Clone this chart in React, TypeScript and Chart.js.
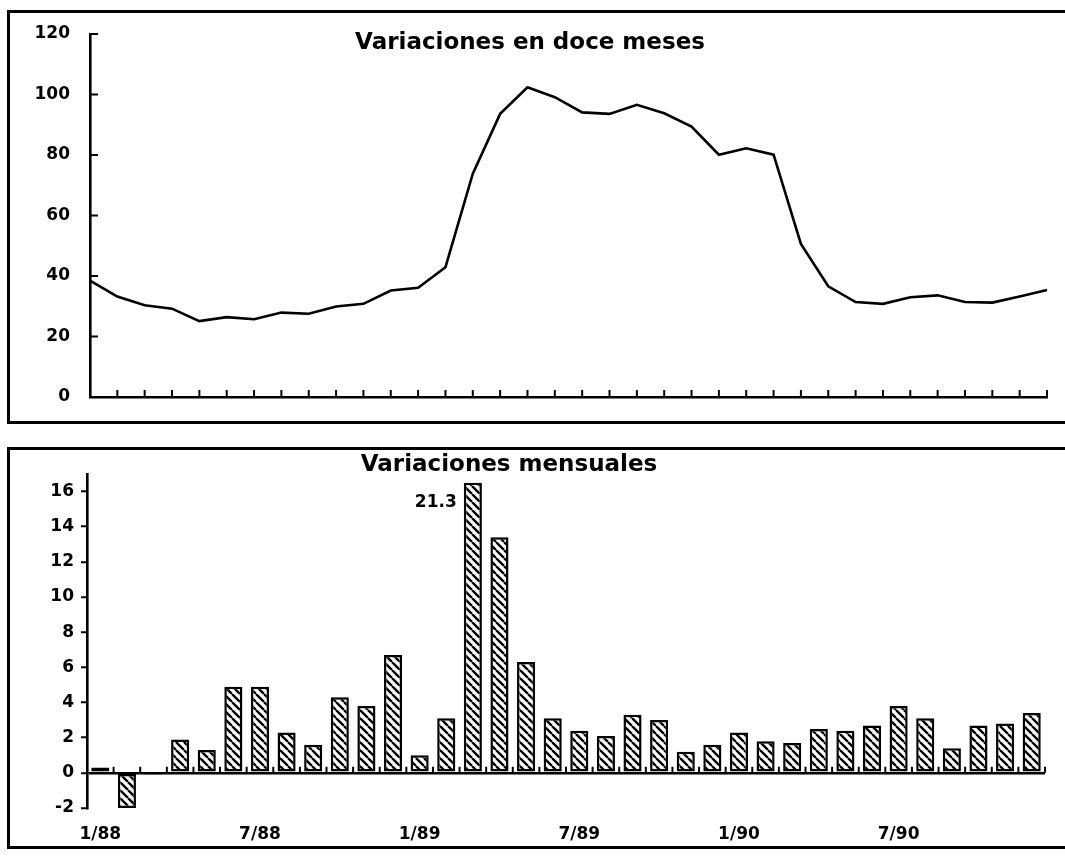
import React, { useEffect, useRef } from "react";
import { Chart, registerables } from "chart.js";

Chart.register(...registerables);

// ---------- data ----------
const months = [
  "1/88", "2/88", "3/88", "4/88", "5/88", "6/88", "7/88", "8/88", "9/88", "10/88", "11/88", "12/88",
  "1/89", "2/89", "3/89", "4/89", "5/89", "6/89", "7/89", "8/89", "9/89", "10/89", "11/89", "12/89",
  "1/90", "2/90", "3/90", "4/90", "5/90", "6/90", "7/90", "8/90", "9/90", "10/90", "11/90", "12/90",
];
const shownMonthLabels = ["1/88", "7/88", "1/89", "7/89", "1/90", "7/90"];

const twelveMonthChange = [
  38.5, 33.2, 30.3, 29.2, 25.1, 26.4, 25.7, 27.9, 27.5, 29.9, 30.8, 35.2,
  36.1, 42.9, 73.8, 93.6, 102.4, 99.1, 94.1, 93.6, 96.6, 93.8, 89.4, 80.1,
  82.2, 80.1, 50.6, 36.6, 31.4, 30.8, 33.0, 33.6, 31.4, 31.2, 33.2, 35.4,
];
const monthlyChange = [
  0.3, -2.0, -0.1, 1.9, 1.3, 4.9, 4.9, 2.3, 1.6, 4.3, 3.8, 6.7,
  1.0, 3.1, 21.3, 13.4, 6.3, 3.1, 2.4, 2.1, 3.3, 3.0, 1.2, 1.6,
  2.3, 1.8, 1.7, 2.5, 2.4, 2.7, 3.8, 3.1, 1.4, 2.7, 2.8, 3.4,
];
const twelveMonthTicks = [0, 20, 40, 60, 80, 100, 120];
const monthlyTicks = [-2, 0, 2, 4, 6, 8, 10, 12, 14, 16];

const TOP_TITLE = "Variaciones en doce meses";
const BOTTOM_TITLE = "Variaciones mensuales";
const BAR_CAP = 16.5; // broken bar: values above are drawn to this height and annotated

const FONT = '"DejaVu Sans", sans-serif';
const tickFont = { family: FONT, size: 17, weight: "bold" as const };

export default function App() {
  const topRef = useRef<HTMLCanvasElement>(null);
  const botRef = useRef<HTMLCanvasElement>(null);

  useEffect(() => {
    const topCanvas = topRef.current!;
    const botCanvas = botRef.current!;

    // ---------- top: line chart ----------
    const topPlugin = {
      id: "topDecor",
      afterDraw(chart: any) {
        const { ctx, scales } = chart;
        const x = scales.x;
        const y = scales.y;
        ctx.save();
        ctx.strokeStyle = "#000";
        ctx.lineWidth = 2;
        ctx.beginPath();
        for (let i = 1; i < months.length; i++) {
          const px = x.getPixelForValue(i);
          ctx.moveTo(px, y.bottom);
          ctx.lineTo(px, y.bottom - 7);
        }
        y.ticks.forEach((t: any) => {
          const py = y.getPixelForValue(t.value);
          ctx.moveTo(x.left, py);
          ctx.lineTo(x.left + 8, py);
        });
        ctx.stroke();
        ctx.fillStyle = "#000";
        ctx.font = `bold 23px ${FONT}`;
        ctx.textAlign = "center";
        ctx.textBaseline = "middle";
        ctx.fillText(TOP_TITLE, 530, 43);
        ctx.restore();
      },
    };

    const top = new Chart(topCanvas, {
      type: "line",
      data: {
        labels: months,
        datasets: [
          {
            data: twelveMonthChange,
            borderColor: "#000",
            borderWidth: 2.6,
            pointRadius: 0,
            tension: 0,
            fill: false,
          },
        ],
      },
      options: {
        responsive: false,
        maintainAspectRatio: false,
        animation: false,
        layout: { padding: { left: 0, right: 18, top: 34, bottom: 33 } },
        plugins: { legend: { display: false }, tooltip: { enabled: false }, title: { display: false } },
        scales: {
          x: {
            type: "category",
            offset: false,
            grid: { display: false },
            border: { display: true, color: "#000", width: 2.6 },
            ticks: { display: false },
            afterFit: (s: any) => {
              s.height = 0;
            },
          },
          y: {
            min: 0,
            max: 120,
            grid: { display: false },
            border: { display: true, color: "#000", width: 2.6 },
            ticks: { color: "#000", font: tickFont, padding: 12 },
            afterBuildTicks: (s: any) => {
              s.ticks = twelveMonthTicks.map((v) => ({ value: v }));
            },
            afterFit: (s: any) => {
              s.width = 90;
            },
          },
        },
      },
      plugins: [topPlugin],
    } as any);

    // ---------- bottom: hatched bar chart ----------
    const pc = document.createElement("canvas");
    const P = 8;
    pc.width = P;
    pc.height = P;
    const pctx = pc.getContext("2d")!;
    pctx.fillStyle = "#fff";
    pctx.fillRect(0, 0, P, P);
    pctx.strokeStyle = "#000";
    pctx.lineWidth = 2.4;
    pctx.beginPath();
    for (const k of [-1, 0, 1]) {
      pctx.moveTo(k * P, 0);
      pctx.lineTo(k * P + P, P);
    }
    pctx.stroke();
    const hatch = botCanvas.getContext("2d")!.createPattern(pc, "repeat");

    const botPlugin = {
      id: "botDecor",
      afterDraw(chart: any) {
        const { ctx, scales } = chart;
        const x = scales.x;
        const y = scales.y;
        const y0 = y.getPixelForValue(0);
        const half = (x.getPixelForValue(1) - x.getPixelForValue(0)) / 2;
        ctx.save();
        ctx.strokeStyle = "#000";
        ctx.lineWidth = 2;
        ctx.beginPath();
        for (let i = 0; i < months.length; i++) {
          const px = x.getPixelForValue(i) + half;
          ctx.moveTo(px, y0);
          ctx.lineTo(px, y0 - 6);
        }
        ctx.stroke();
        // annotate broken bars
        const meta = chart.getDatasetMeta(0);
        ctx.fillStyle = "#000";
        ctx.font = `bold 17px ${FONT}`;
        ctx.textAlign = "right";
        ctx.textBaseline = "middle";
        monthlyChange.forEach((v, i) => {
          if (v > BAR_CAP) {
            const el = meta.data[i];
            const p = el.getProps(["x", "y", "width"], true);
            ctx.fillText(v.toFixed(1), p.x - p.width / 2 - 7, p.y + 20);
          }
        });
        ctx.font = `bold 23px ${FONT}`;
        ctx.textAlign = "center";
        ctx.fillText(BOTTOM_TITLE, 509, 35);
        ctx.restore();
      },
    };

    const bot = new Chart(botCanvas, {
      type: "bar",
      data: {
        labels: months,
        datasets: [
          {
            data: monthlyChange.map((v) => Math.min(v, BAR_CAP)),
            backgroundColor: hatch,
            borderColor: "#000",
            borderWidth: 2.5,
            borderSkipped: false,
            barPercentage: 0.68,
            categoryPercentage: 1,
          },
        ],
      },
      options: {
        responsive: false,
        maintainAspectRatio: false,
        animation: false,
        layout: { padding: { left: 0, right: 20, top: 44, bottom: 0 } },
        plugins: { legend: { display: false }, tooltip: { enabled: false }, title: { display: false } },
        scales: {
          x: {
            type: "category",
            offset: true,
            grid: { display: false },
            border: { display: false },
            ticks: {
              color: "#000",
              font: tickFont,
              padding: 8,
              autoSkip: false,
              maxRotation: 0,
              callback: (_v: any, i: number) =>
                shownMonthLabels.includes(months[i]) ? months[i] : "",
            },
            afterFit: (s: any) => {
              s.height = 48;
            },
          },
          y: {
            min: -2,
            max: 17,
            grid: {
              display: true,
              drawOnChartArea: true,
              drawTicks: true,
              tickLength: 6,
              tickWidth: 2,
              tickColor: "#000",
              lineWidth: 2.5,
              color: (c: any) => (c.tick && c.tick.value === 0 ? "#000" : "rgba(0,0,0,0)"),
            },
            border: { display: true, color: "#000", width: 2.6 },
            ticks: { color: "#000", font: tickFont, padding: 7 },
            afterBuildTicks: (s: any) => {
              s.ticks = monthlyTicks.map((v) => ({ value: v }));
            },
            afterFit: (s: any) => {
              s.width = 87;
            },
          },
        },
      },
      plugins: [botPlugin],
    } as any);

    return () => {
      top.destroy();
      bot.destroy();
    };
  }, []);

  return (
    <div
      style={{
        position: "fixed",
        left: 0,
        top: 0,
        width: 1065,
        height: 856,
        overflow: "hidden",
        background: "#fff",
      }}
    >
      <div
        style={{
          position: "absolute",
          left: 7,
          top: 10,
          width: 1100,
          height: 408,
          border: "3px solid #000",
          borderRight: "none",
        }}
      />
      <div
        style={{
          position: "absolute",
          left: 7,
          top: 447,
          width: 1100,
          height: 396,
          border: "3px solid #000",
          borderRight: "none",
        }}
      />
      <canvas
        ref={topRef}
        width={1065}
        height={430}
        style={{ position: "absolute", left: 0, top: 0, width: 1065, height: 430 }}
      />
      <canvas
        ref={botRef}
        width={1065}
        height={426}
        style={{ position: "absolute", left: 0, top: 430, width: 1065, height: 426 }}
      />
    </div>
  );
}
